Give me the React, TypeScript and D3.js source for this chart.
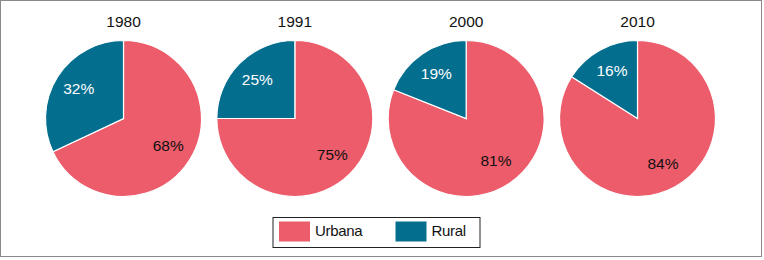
import React from "react";
import * as d3 from "d3";

const years = ["1980", "1991", "2000", "2010"];
const urbana = [68, 75, 81, 84];
const rural = [32, 25, 19, 16];
const categories = ["Urbana", "Rural"];
const colors = ["#EC5C6B", "#046E8F"];

const W = 764;
const H = 260;
const R = 78;
const cy = 118.5;

export default function App() {
  const x = d3.scalePoint<string>().domain(years).range([123.5, 637.5]);
  const pie = d3
    .pie<{ key: string; value: number }>()
    .sort(null)
    .value((d) => d.value);
  const arc = d3.arc<d3.PieArcDatum<{ key: string; value: number }>>().innerRadius(0).outerRadius(R);
  const labelArc = d3
    .arc<d3.PieArcDatum<{ key: string; value: number }>>()
    .innerRadius(53)
    .outerRadius(53);

  return (
    <svg
      width={W}
      height={H}
      style={{ position: "absolute", left: 0, top: 0, background: "#fff" }}
      fontFamily="'Liberation Sans', Arial, sans-serif"
    >
      <rect x={0.5} y={0.5} width={761} height={256} fill="#fff" stroke="#8a8a8a" strokeWidth={1} />
      {years.map((yr, i) => {
        const data = [
          { key: categories[0], value: urbana[i] },
          { key: categories[1], value: rural[i] },
        ];
        const arcs = pie(data);
        return (
          <g key={yr} transform={`translate(${x(yr)},${cy})`}>
            <text x={0} y={-95.5} textAnchor="middle" dominantBaseline="middle" fontSize={15.5} fill="#111">
              {yr}
            </text>
            {arcs.map((a, j) => (
              <path key={j} d={arc(a) || ""} fill={colors[j]} stroke="#fff" strokeWidth={1.2} />
            ))}
            {arcs.map((a, j) => {
              const [lx, ly] = labelArc.centroid(a);
              return (
                <text
                  key={"t" + j}
                  x={lx}
                  y={ly}
                  textAnchor="middle"
                  dominantBaseline="middle"
                  fontSize={15.5}
                  fill={j === 0 ? "#111" : "#fff"}
                >
                  {a.data.value}%
                </text>
              );
            })}
          </g>
        );
      })}
      <g>
        <rect x={273} y={217.5} width={207} height={30} fill="#fff" stroke="#222" strokeWidth={1} />
        {categories.map((c, j) => (
          <g key={c} transform={`translate(${279 + j * 116.5},221.5)`}>
            <rect x={0} y={0} width={31} height={20} fill={colors[j]} />
            <text x={36} y={10.5} dominantBaseline="middle" fontSize={15} fill="#111" letterSpacing={-0.3}>
              {c}
            </text>
          </g>
        ))}
      </g>
    </svg>
  );
}
